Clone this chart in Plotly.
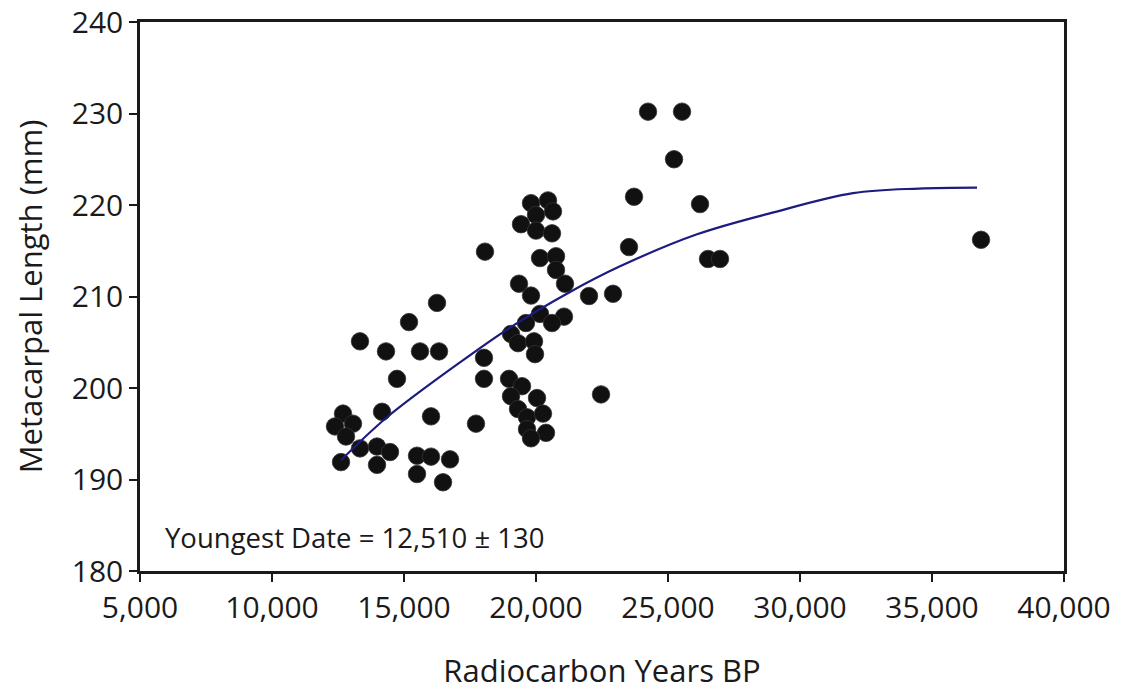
import plotly.graph_objects as go

# Scatter data (radiocarbon years BP, metacarpal length mm)
years = [
    16250, 15190, 13333, 14318, 15606, 16326, 18030, 14735, 18030, 16023,
    17727, 14167, 12690, 12386, 13068, 12803, 13333, 13978, 14470, 12614,
    13978, 15493, 16023, 16743, 15493, 16478,
    19811, 20455, 20644, 20000, 19432, 20000, 20606, 18068, 20152, 20758,
    20758, 19356, 21099, 19811, 20152, 21061, 20606, 19621, 19053, 19318,
    19925, 19962, 18978, 19470, 19053, 20038, 19318, 19659, 20265, 19659,
    20379, 19811,
    22008, 22917, 22463, 24243, 25531, 25228, 23713, 26213, 23523, 26516,
    26970, 36857,
]
length_mm = [
    209.3, 207.2, 205.1, 204.0, 204.0, 204.0, 203.3, 201.0, 201.0, 196.9,
    196.1, 197.4, 197.2, 195.8, 196.1, 194.7, 193.4, 193.6, 193.0, 191.9,
    191.6, 192.6, 192.5, 192.2, 190.6, 189.7,
    220.2, 220.5, 219.3, 218.9, 217.9, 217.2, 216.9, 214.9, 214.2, 214.4,
    212.9, 211.4, 211.4, 210.1, 208.1, 207.8, 207.1, 207.1, 205.9, 204.9,
    205.1, 203.7, 201.0, 200.2, 199.1, 198.9, 197.7, 196.8, 197.2, 195.5,
    195.1, 194.5,
    210.05, 210.3, 199.3, 230.2, 230.2, 225.0, 220.9, 220.1, 215.4, 214.1,
    214.1, 216.2,
]

# Trend curve
trend_x = [12614, 14356, 17121, 19015, 21288, 23182, 26100, 29000, 32008, 34500, 36705]
trend_y = [192.1, 196.8, 202.8, 206.6, 210.5, 213.3, 216.8, 219.2, 221.3, 221.8, 221.9]

x_ticks = [5000, 10000, 15000, 20000, 25000, 30000, 35000, 40000]
x_tick_labels = ["5,000", "10,000", "15,000", "20,000", "25,000", "30,000", "35,000", "40,000"]
y_ticks = [180, 190, 200, 210, 220, 230, 240]

FONT = "Open Sans"
INK = "#1a1a1a"

fig = go.Figure()
fig.add_trace(go.Scatter(
    x=years, y=length_mm, mode="markers",
    marker=dict(size=17.5, color="#111111", line=dict(width=0.8, color="#333333")),
    showlegend=False, hoverinfo="x+y",
))
fig.add_trace(go.Scatter(
    x=trend_x, y=trend_y, mode="lines",
    line=dict(color="#1c1c80", width=2.2, shape="spline", smoothing=1.0),
    showlegend=False,
))

fig.add_annotation(
    x=5870, y=183.7, xref="x", yref="y",
    text="Youngest Date = 12,510 ± 130",
    showarrow=False, xanchor="left", yanchor="middle",
    font=dict(family=FONT, size=27.5, color=INK),
)

fig.update_xaxes(
    range=[5000, 40000], tickvals=x_ticks, ticktext=x_tick_labels,
    showgrid=False, zeroline=False, automargin=False, ticklabeloverflow="allow",
    showline=True, linecolor=INK, linewidth=2.5, mirror=True,
    ticks="outside", ticklen=8, tickwidth=2, tickcolor=INK,
    tickfont=dict(family=FONT, size=30, color=INK),
    title=dict(text="Radiocarbon Years BP", font=dict(family=FONT, size=31, color=INK), standoff=35),
)
fig.update_yaxes(
    range=[180, 240], tickvals=y_ticks,
    showgrid=False, zeroline=False, automargin=False, ticklabeloverflow="allow",
    showline=True, linecolor=INK, linewidth=2.5, mirror=True,
    ticks="outside", ticklen=8, tickwidth=2, tickcolor=INK,
    tickfont=dict(family=FONT, size=30, color=INK),
    title=dict(text="Metacarpal Length (mm)", font=dict(family=FONT, size=31, color=INK), standoff=20),
)

fig.update_layout(
    width=1124, height=694,
    margin=dict(l=140, r=60, t=22, b=123),
    paper_bgcolor="white", plot_bgcolor="white",
    font=dict(family=FONT, color=INK),
)

fig.write_html(
    "out.html",
    config={"displayModeBar": False},
    post_script="document.body.style.margin='0';",
)
